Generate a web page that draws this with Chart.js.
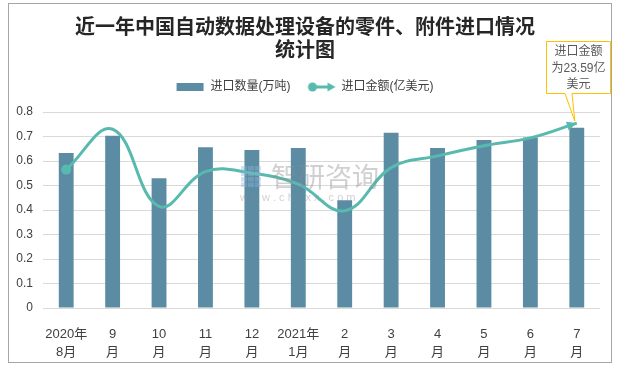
<!DOCTYPE html>
<html><head><meta charset="utf-8">
<script src="https://cdn.jsdelivr.net/npm/chart.js@4.4.1/dist/chart.umd.min.js"></script>
<style>html,body{margin:0;padding:0;background:#fff;}#wrap{position:relative;width:620px;height:368px;}</style>
</head><body><div id="wrap"><canvas id="c" width="620" height="368"></canvas></div>
<script>
// ---- data ----
const categories = [['2020年','8月'],['9','月'],['10','月'],['11','月'],['12','月'],['2021年','1月'],['2','月'],['3','月'],['4','月'],['5','月'],['6','月'],['7','月']];
const quantity = [0.633,0.703,0.530,0.656,0.645,0.653,0.440,0.715,0.653,0.686,0.696,0.736]; // 万吨
const amount = [17.65,22.8,12.95,17.4,17.2,15.8,12.4,17.9,19.4,20.7,21.7,23.59]; // 亿美元
const yTicks = [0,0.1,0.2,0.3,0.4,0.5,0.6,0.7,0.8];
const titleLines = ['近一年中国自动数据处理设备的零件、附件进口情况','统计图'];
const seriesNames = ['进口数量(万吨)','进口金额(亿美元)'];
const calloutLines = ['进口金额','为' + amount[amount.length-1] + '亿','美元'];
const watermark = ['智研咨询','w w w . c h y x x . c o m'];

const BAR = '#5B8CA4', LINE = '#58BAAF', GRID = '#D9D9D9', TXT = '#404040';
const FONT = '"Liberation Sans", "Noto Sans CJK SC", sans-serif';

function legendIcon(kind){
  const c = document.createElement('canvas');
  c.width = 30; c.height = 12;
  const g = c.getContext('2d');
  if (kind === 'bar') { g.fillStyle = BAR; g.fillRect(1,2,27,8); }
  else {
    g.strokeStyle = LINE; g.fillStyle = LINE; g.lineWidth = 3;
    g.beginPath(); g.moveTo(6,6); g.lineTo(24,6); g.stroke();
    g.beginPath(); g.arc(6,6,4.5,0,Math.PI*2); g.fill();
    g.beginPath(); g.moveTo(29,6); g.lineTo(21,1.5); g.lineTo(21,10.5); g.closePath(); g.fill();
  }
  return c;
}
const icons = [legendIcon('bar'), legendIcon('line')];

const framePlugin = {
  id:'frame',
  beforeDraw(chart){
    const ctx = chart.ctx; ctx.save();
    ctx.fillStyle = '#fff'; ctx.fillRect(0,0,chart.width,chart.height);
    ctx.strokeStyle = '#A6A6A6'; ctx.lineWidth = 1;
    ctx.strokeRect(8.5,3.5,603,359);
    ctx.restore();
  }
};

const watermarkPlugin = {
  id:'wm',
  afterDatasetsDraw(chart){
    const ctx = chart.ctx; ctx.save();
    ctx.globalAlpha = 0.4;
    ctx.fillStyle = '#8FB4D6';
    for (let r=0;r<4;r++) for (let k=0;k<3;k++){ ctx.fillRect(241+k*7, 166+r*5.5, 6, 4.5); }
    ctx.fillStyle = '#8A8A8A';
    ctx.font = '27px "Noto Sans CJK SC"';
    ctx.textBaseline = 'middle'; ctx.textAlign = 'left';
    ctx.fillText(watermark[0], 271, 177);
    ctx.font = '11px "Liberation Sans"';
    ctx.fillText(watermark[1], 240, 198);
    ctx.restore();
  }
};

const decoPlugin = {
  id:'deco',
  afterDatasetsDraw(chart){
    const meta = chart.getDatasetMeta(1);
    const pts = meta.data; const p = pts[pts.length-1];
    const q = (p.cp1x !== undefined) ? {x:p.cp1x, y:p.cp1y} : pts[pts.length-2];
    const a = Math.atan2(p.y-q.y, p.x-q.x);
    const ctx = chart.ctx; ctx.save();
    ctx.fillStyle = LINE;
    const L = 10, W = 4.5;
    const bx = p.x - L*Math.cos(a), by = p.y - L*Math.sin(a);
    ctx.beginPath();
    ctx.moveTo(p.x, p.y);
    ctx.lineTo(bx + W*Math.sin(a), by - W*Math.cos(a));
    ctx.lineTo(bx - W*Math.sin(a), by + W*Math.cos(a));
    ctx.closePath(); ctx.fill();
    ctx.restore();
  },
  afterDraw(chart){
    const meta = chart.getDatasetMeta(1);
    const p = meta.data[meta.data.length-1];
    const ctx = chart.ctx; ctx.save();
    const L=546.5, T=41.5, R=610.5, B=93.5;
    ctx.beginPath();
    ctx.moveTo(L,T); ctx.lineTo(R,T); ctx.lineTo(R,B); ctx.lineTo(572,B);
    ctx.lineTo(p.x-2, p.y-2); ctx.lineTo(565,B); ctx.lineTo(L,B); ctx.closePath();
    ctx.fillStyle = '#fff'; ctx.fill();
    ctx.strokeStyle = '#FFC000'; ctx.lineWidth = 1; ctx.stroke();
    ctx.fillStyle = '#595959'; ctx.font = '12px ' + FONT;
    ctx.textAlign = 'center'; ctx.textBaseline = 'middle';
    calloutLines.forEach((t,i)=>ctx.fillText(t, 578.5, 52 + i*16.5));
    ctx.restore();
  }
};

const legendFitPlugin = {
  id:'legendFit',
  beforeInit(chart){
    const orig = chart.legend.fit;
    chart.legend.fit = function(){ orig.call(this); this.height = 48; };
  }
};

new Chart(document.getElementById('c'), {
  data: {
    labels: categories,
    datasets: [
      { type:'bar', label: seriesNames[0], data: quantity, backgroundColor: BAR, yAxisID:'y',
        categoryPercentage: 1, barPercentage: 0.32, order: 2 },
      { type:'line', label: seriesNames[1], data: amount, borderColor: LINE, backgroundColor: LINE,
        borderWidth: 3, tension: 0.4, yAxisID:'y1', order: 1,
        pointRadius: amount.map((v,i)=> i===0 ? 5 : 0), pointHoverRadius: 0,
        pointBackgroundColor: LINE, pointBorderWidth: 0 }
    ]
  },
  options: {
    responsive:false, animation:false, devicePixelRatio:1,
    layout:{ padding:{ left:10, right:20, top:0, bottom:0 } },
    plugins:{
      title:{ display:true, text: titleLines, color:'#262626',
        font:{ family:'"Noto Sans CJK SC"', size:20, weight:'bold', lineHeight:1.15 },
        padding:{ top:15, bottom:3 } },
      legend:{ display:true, position:'top',
        labels:{ usePointStyle:true, pointStyleWidth:28, padding:17, color:TXT,
          font:{ family:FONT, size:12 },
          generateLabels(chart){
            return chart.data.datasets.map((d,i)=>({ text:d.label, pointStyle:icons[i], datasetIndex:i,
              fillStyle:'transparent', strokeStyle:'transparent', lineWidth:0, fontColor:TXT, hidden:false }));
          } } },
      tooltip:{ enabled:false }
    },
    scales:{
      x:{ grid:{ display:false }, border:{ display:false },
        ticks:{ color:TXT, font:{ family:FONT, size:13, lineHeight:1.4 }, maxRotation:0, autoSkip:false, padding:9 },
        afterFit(s){ s.height = 60; } },
      y:{ min:0, max:yTicks[yTicks.length-1], position:'left',
        grid:{ color:GRID, drawTicks:false }, border:{ display:false },
        ticks:{ stepSize:0.1, color:TXT, font:{ family:FONT, size:12 }, padding:10,
          callback:(v)=> String(Math.round(v*10)/10) },
        afterFit(s){ s.width = 33; } },
      y1:{ display:false, min:0, max:25 }
    }
  },
  plugins:[framePlugin, legendFitPlugin, watermarkPlugin, decoPlugin]
});
</script></body></html>
